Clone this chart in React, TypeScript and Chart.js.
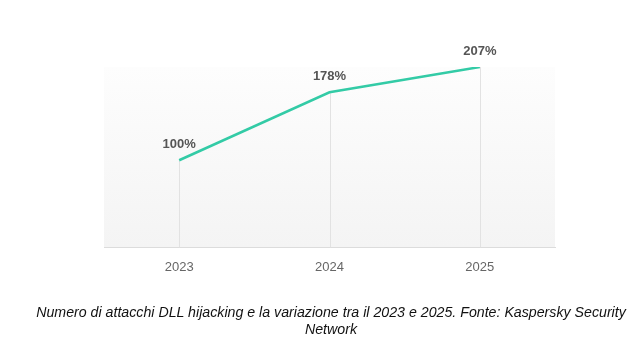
import React, { useEffect, useRef } from "react";
import { Chart, registerables } from "chart.js";

Chart.register(...registerables);

const years = ["2023", "2024", "2025"];
const attackPercent = [100, 178, 207];
const caption =
  "Numero di attacchi DLL hijacking e la variazione tra il 2023 e 2025. Fonte: Kaspersky Security Network";

const areaBgPlugin = {
  id: "areaBg",
  beforeDraw(chart: any) {
    const { ctx, chartArea } = chart;
    if (!chartArea) return;
    const g = ctx.createLinearGradient(0, chartArea.top, 0, chartArea.bottom);
    g.addColorStop(0, "#fdfdfd");
    g.addColorStop(1, "#f4f4f4");
    ctx.save();
    ctx.fillStyle = g;
    ctx.fillRect(chartArea.left, chartArea.top, chartArea.right - chartArea.left, chartArea.bottom - chartArea.top);
    ctx.restore();
  },
  beforeDatasetsDraw(chart: any) {
    const { ctx, chartArea } = chart;
    const meta = chart.getDatasetMeta(0);
    ctx.save();
    ctx.strokeStyle = "#e2e2e2";
    ctx.lineWidth = 1;
    meta.data.forEach((pt: any) => {
      const x = Math.round(pt.x) + 0.5;
      ctx.beginPath();
      ctx.moveTo(x, pt.y);
      ctx.lineTo(x, chartArea.bottom);
      ctx.stroke();
    });
    ctx.restore();
  },
  afterDatasetsDraw(chart: any) {
    const { ctx } = chart;
    const meta = chart.getDatasetMeta(0);
    const values = chart.data.datasets[0].data;
    ctx.save();
    ctx.font = "bold 13px 'Liberation Sans', Arial, sans-serif";
    ctx.fillStyle = "#555555";
    ctx.textAlign = "center";
    ctx.textBaseline = "middle";
    meta.data.forEach((pt: any, i: number) => {
      ctx.fillText(values[i] + "%", pt.x, pt.y - 16);
    });
    ctx.restore();
  },
};

export default function App() {
  const ref = useRef<HTMLCanvasElement>(null);
  useEffect(() => {
    if (!ref.current) return;
    const chart = new Chart(ref.current, {
      type: "line",
      data: {
        labels: years,
        datasets: [
          {
            data: attackPercent,
            borderColor: "#33cba6",
            borderWidth: 2.5,
            pointRadius: 0,
            pointHoverRadius: 0,
            tension: 0,
            fill: false,
          },
        ],
      },
      plugins: [areaBgPlugin],
      options: {
        animation: false,
        responsive: false,
        maintainAspectRatio: false,
        layout: { padding: { left: 104, right: 85, top: 67, bottom: 72 } },
        plugins: {
          legend: { display: false },
          tooltip: { enabled: false },
          title: { display: false },
        },
        scales: {
          x: {
            offset: true,
            grid: { display: true, drawOnChartArea: false, color: "rgba(0,0,0,0)", tickLength: 8 },
            border: { display: true, color: "#dcdcdc", width: 1 },
            ticks: {
              padding: 4,
              color: "#666666",
              font: { family: "'Liberation Sans', Arial, sans-serif", size: 13 },
            },
          },
          y: {
            display: false,
            min: 0,
            max: 207,
          },
        },
      },
    });
    return () => chart.destroy();
  }, []);
  return (
    <div style={{ position: "absolute", left: 0, top: 0, width: 640, height: 351, background: "#ffffff" }}>
      <canvas ref={ref} width={640} height={351} style={{ display: "block", width: 640, height: 351 }} />
      <div
        style={{
          position: "absolute",
          left: 25,
          top: 304,
          width: 612,
          textAlign: "center",
          fontFamily: "'Liberation Sans', Arial, sans-serif",
          fontStyle: "italic",
          fontSize: 14.2,
          lineHeight: "17px",
          color: "#111111",
        }}
      >
        {caption}
      </div>
    </div>
  );
}
